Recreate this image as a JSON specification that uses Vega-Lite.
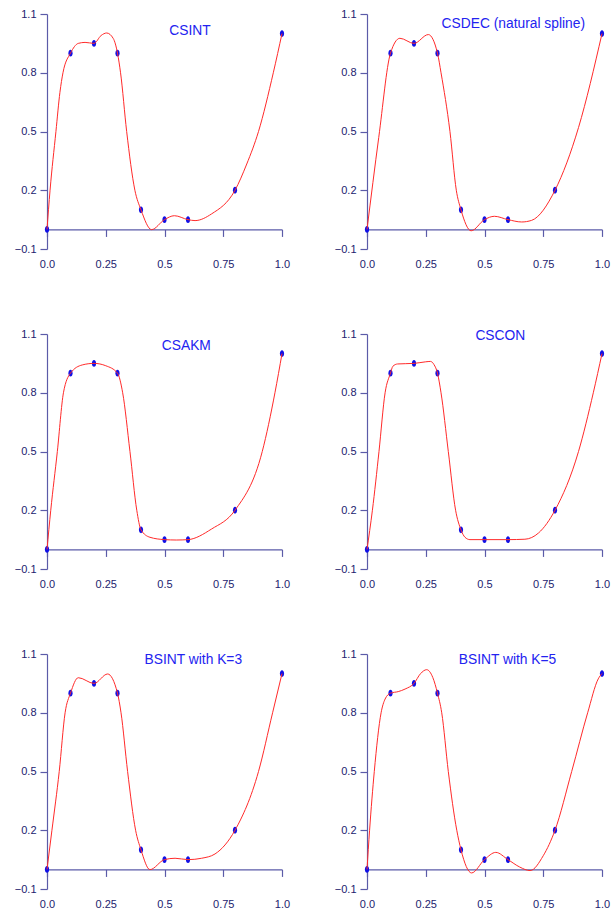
{
  "$schema": "https://vega.github.io/schema/vega-lite/v6.json",
  "background": "white",
  "padding": {"left": 14, "top": 8, "right": 5, "bottom": 5},
  "bounds": "flush",
  "columns": 2,
  "spacing": 85,
  "datasets": {
    "knots": [
      {"x": 0.0, "y": 0.0}, {"x": 0.1, "y": 0.9}, {"x": 0.2, "y": 0.95},
      {"x": 0.3, "y": 0.9}, {"x": 0.4, "y": 0.1}, {"x": 0.5, "y": 0.05},
      {"x": 0.6, "y": 0.05}, {"x": 0.8, "y": 0.2}, {"x": 1.0, "y": 1.0}
    ],
    "csint": [
      {"x": 0, "y": 0}, {"x": 0.013, "y": 0.2}, {"x": 0.038, "y": 0.5}, {"x": 0.055, "y": 0.7},
      {"x": 0.068, "y": 0.8}, {"x": 0.1, "y": 0.9}, {"x": 0.133, "y": 0.95}, {"x": 0.162, "y": 0.955},
      {"x": 0.2, "y": 0.95}, {"x": 0.23, "y": 0.99}, {"x": 0.254, "y": 1.003}, {"x": 0.282, "y": 0.975},
      {"x": 0.3, "y": 0.9}, {"x": 0.313, "y": 0.8}, {"x": 0.339, "y": 0.5}, {"x": 0.374, "y": 0.2},
      {"x": 0.4, "y": 0.1}, {"x": 0.445, "y": -0.001}, {"x": 0.5, "y": 0.05}, {"x": 0.542, "y": 0.07},
      {"x": 0.6, "y": 0.05}, {"x": 0.63, "y": 0.045}, {"x": 0.7, "y": 0.079}, {"x": 0.8, "y": 0.2},
      {"x": 0.85, "y": 0.334}, {"x": 0.9, "y": 0.5}, {"x": 0.963, "y": 0.8}, {"x": 1.0, "y": 1.0}
    ],
    "csdec": [
      {"x": 0, "y": 0}, {"x": 0.05, "y": 0.47}, {"x": 0.1, "y": 0.9}, {"x": 0.14, "y": 0.976},
      {"x": 0.2, "y": 0.95}, {"x": 0.261, "y": 0.995}, {"x": 0.3, "y": 0.9}, {"x": 0.315, "y": 0.8},
      {"x": 0.353, "y": 0.5}, {"x": 0.38, "y": 0.2}, {"x": 0.4, "y": 0.1}, {"x": 0.443, "y": -0.007},
      {"x": 0.5, "y": 0.05}, {"x": 0.542, "y": 0.067}, {"x": 0.6, "y": 0.05}, {"x": 0.658, "y": 0.038},
      {"x": 0.7, "y": 0.046}, {"x": 0.8, "y": 0.2}, {"x": 0.9, "y": 0.52}, {"x": 1.0, "y": 1.0}
    ],
    "csakm": [
      {"x": 0, "y": 0}, {"x": 0.016, "y": 0.2}, {"x": 0.044, "y": 0.5}, {"x": 0.07, "y": 0.8},
      {"x": 0.1, "y": 0.9}, {"x": 0.15, "y": 0.942}, {"x": 0.2, "y": 0.95}, {"x": 0.25, "y": 0.938},
      {"x": 0.3, "y": 0.9}, {"x": 0.322, "y": 0.8}, {"x": 0.353, "y": 0.5}, {"x": 0.382, "y": 0.2},
      {"x": 0.4, "y": 0.1}, {"x": 0.438, "y": 0.062}, {"x": 0.5, "y": 0.05}, {"x": 0.55, "y": 0.048},
      {"x": 0.6, "y": 0.05}, {"x": 0.7, "y": 0.104}, {"x": 0.8, "y": 0.2}, {"x": 0.916, "y": 0.5},
      {"x": 0.97, "y": 0.8}, {"x": 1.0, "y": 1.0}
    ],
    "cscon": [
      {"x": 0, "y": 0}, {"x": 0.023, "y": 0.2}, {"x": 0.051, "y": 0.5}, {"x": 0.077, "y": 0.8},
      {"x": 0.1, "y": 0.9}, {"x": 0.11, "y": 0.935}, {"x": 0.13, "y": 0.947}, {"x": 0.2, "y": 0.95},
      {"x": 0.25, "y": 0.958}, {"x": 0.27, "y": 0.96}, {"x": 0.285, "y": 0.944}, {"x": 0.3, "y": 0.9},
      {"x": 0.315, "y": 0.8}, {"x": 0.346, "y": 0.5}, {"x": 0.377, "y": 0.2}, {"x": 0.4, "y": 0.1},
      {"x": 0.417, "y": 0.062}, {"x": 0.438, "y": 0.05}, {"x": 0.5, "y": 0.05}, {"x": 0.6, "y": 0.05},
      {"x": 0.672, "y": 0.052}, {"x": 0.73, "y": 0.084}, {"x": 0.8, "y": 0.2}, {"x": 0.9, "y": 0.5},
      {"x": 0.963, "y": 0.8}, {"x": 1.0, "y": 1.0}
    ],
    "bsint3": [
      {"x": 0, "y": 0}, {"x": 0.021, "y": 0.2}, {"x": 0.052, "y": 0.5}, {"x": 0.077, "y": 0.8},
      {"x": 0.1, "y": 0.9}, {"x": 0.133, "y": 0.979}, {"x": 0.2, "y": 0.95}, {"x": 0.258, "y": 0.998},
      {"x": 0.3, "y": 0.9}, {"x": 0.315, "y": 0.8}, {"x": 0.343, "y": 0.5}, {"x": 0.377, "y": 0.2},
      {"x": 0.4, "y": 0.1}, {"x": 0.438, "y": -0.001}, {"x": 0.5, "y": 0.05}, {"x": 0.545, "y": 0.057},
      {"x": 0.6, "y": 0.05}, {"x": 0.658, "y": 0.057}, {"x": 0.715, "y": 0.079}, {"x": 0.8, "y": 0.2},
      {"x": 0.9, "y": 0.5}, {"x": 0.96, "y": 0.8}, {"x": 1.0, "y": 1.0}
    ],
    "bsint5": [
      {"x": 0, "y": 0}, {"x": 0.011, "y": 0.2}, {"x": 0.031, "y": 0.5}, {"x": 0.06, "y": 0.8},
      {"x": 0.077, "y": 0.87}, {"x": 0.1, "y": 0.9}, {"x": 0.133, "y": 0.908}, {"x": 0.162, "y": 0.921},
      {"x": 0.2, "y": 0.95}, {"x": 0.228, "y": 1.0}, {"x": 0.254, "y": 1.02}, {"x": 0.28, "y": 0.98},
      {"x": 0.3, "y": 0.9}, {"x": 0.318, "y": 0.8}, {"x": 0.346, "y": 0.5}, {"x": 0.382, "y": 0.2},
      {"x": 0.4, "y": 0.1}, {"x": 0.445, "y": -0.018}, {"x": 0.5, "y": 0.05}, {"x": 0.548, "y": 0.087},
      {"x": 0.6, "y": 0.05}, {"x": 0.65, "y": 0.012}, {"x": 0.694, "y": -0.006}, {"x": 0.75, "y": 0.07},
      {"x": 0.8, "y": 0.2}, {"x": 0.871, "y": 0.5}, {"x": 0.939, "y": 0.8}, {"x": 0.984, "y": 0.973},
      {"x": 1.0, "y": 1.0}
    ]
  },
  "concat": [
    {
      "width": 235, "height": 235,
      "title": {"text": "CSINT", "dx": 25.5, "dy": 34},
      "encoding": {
        "x": {"field": "x", "type": "quantitative", "scale": {"domain": [0, 1], "nice": false, "zero": false},
              "axis": {"values": [0, 0.25, 0.5, 0.75, 1], "offset": -19.58, "labelPadding": 22, "title": null,
                       "labelExpr": "datum.value == 0 ? '0.0' : datum.value == 1 ? '1.0' : '' + datum.value"}},
        "y": {"field": "y", "type": "quantitative", "scale": {"domain": [-0.1, 1.1], "nice": false, "zero": false},
              "axis": {"values": [-0.1, 0.2, 0.5, 0.8, 1.1], "format": ".1f", "labelPadding": 4, "title": null}}
      },
      "layer": [
        {"data": {"name": "knots"}, "mark": {"type": "point", "filled": true, "opacity": 1, "color": "#1010e8", "size": 46,
          "shape": "M-0.62,0A0.62,1,0,1,1,0.62,0A0.62,1,0,1,1,-0.62,0Z"}},
        {"data": {"name": "csint"}, "mark": {"type": "line", "interpolate": "monotone", "color": "#ff2a2a", "strokeWidth": 1}}
      ]
    },
    {
      "width": 235, "height": 235,
      "title": {"text": "CSDEC (natural spline)", "dx": 28.8, "dy": 27},
      "encoding": {
        "x": {"field": "x", "type": "quantitative", "scale": {"domain": [0, 1], "nice": false, "zero": false},
              "axis": {"values": [0, 0.25, 0.5, 0.75, 1], "offset": -19.58, "labelPadding": 22, "title": null,
                       "labelExpr": "datum.value == 0 ? '0.0' : datum.value == 1 ? '1.0' : '' + datum.value"}},
        "y": {"field": "y", "type": "quantitative", "scale": {"domain": [-0.1, 1.1], "nice": false, "zero": false},
              "axis": {"values": [-0.1, 0.2, 0.5, 0.8, 1.1], "format": ".1f", "labelPadding": 4, "title": null}}
      },
      "layer": [
        {"data": {"name": "knots"}, "mark": {"type": "point", "filled": true, "opacity": 1, "color": "#1010e8", "size": 46,
          "shape": "M-0.62,0A0.62,1,0,1,1,0.62,0A0.62,1,0,1,1,-0.62,0Z"}},
        {"data": {"name": "csdec"}, "mark": {"type": "line", "interpolate": "monotone", "color": "#ff2a2a", "strokeWidth": 1}}
      ]
    },
    {
      "width": 235, "height": 235,
      "title": {"text": "CSAKM", "dx": 21.8, "dy": 29},
      "encoding": {
        "x": {"field": "x", "type": "quantitative", "scale": {"domain": [0, 1], "nice": false, "zero": false},
              "axis": {"values": [0, 0.25, 0.5, 0.75, 1], "offset": -19.58, "labelPadding": 22, "title": null,
                       "labelExpr": "datum.value == 0 ? '0.0' : datum.value == 1 ? '1.0' : '' + datum.value"}},
        "y": {"field": "y", "type": "quantitative", "scale": {"domain": [-0.1, 1.1], "nice": false, "zero": false},
              "axis": {"values": [-0.1, 0.2, 0.5, 0.8, 1.1], "format": ".1f", "labelPadding": 4, "title": null}}
      },
      "layer": [
        {"data": {"name": "knots"}, "mark": {"type": "point", "filled": true, "opacity": 1, "color": "#1010e8", "size": 46,
          "shape": "M-0.62,0A0.62,1,0,1,1,0.62,0A0.62,1,0,1,1,-0.62,0Z"}},
        {"data": {"name": "csakm"}, "mark": {"type": "line", "interpolate": "monotone", "color": "#ff2a2a", "strokeWidth": 1}}
      ]
    },
    {
      "width": 235, "height": 235,
      "title": {"text": "CSCON", "dx": 15.8, "dy": 19},
      "encoding": {
        "x": {"field": "x", "type": "quantitative", "scale": {"domain": [0, 1], "nice": false, "zero": false},
              "axis": {"values": [0, 0.25, 0.5, 0.75, 1], "offset": -19.58, "labelPadding": 22, "title": null,
                       "labelExpr": "datum.value == 0 ? '0.0' : datum.value == 1 ? '1.0' : '' + datum.value"}},
        "y": {"field": "y", "type": "quantitative", "scale": {"domain": [-0.1, 1.1], "nice": false, "zero": false},
              "axis": {"values": [-0.1, 0.2, 0.5, 0.8, 1.1], "format": ".1f", "labelPadding": 4, "title": null}}
      },
      "layer": [
        {"data": {"name": "knots"}, "mark": {"type": "point", "filled": true, "opacity": 1, "color": "#1010e8", "size": 46,
          "shape": "M-0.62,0A0.62,1,0,1,1,0.62,0A0.62,1,0,1,1,-0.62,0Z"}},
        {"data": {"name": "cscon"}, "mark": {"type": "line", "interpolate": "monotone", "color": "#ff2a2a", "strokeWidth": 1}}
      ]
    },
    {
      "width": 235, "height": 235,
      "title": {"text": "BSINT with K=3", "dx": 28.8, "dy": 23},
      "encoding": {
        "x": {"field": "x", "type": "quantitative", "scale": {"domain": [0, 1], "nice": false, "zero": false},
              "axis": {"values": [0, 0.25, 0.5, 0.75, 1], "offset": -19.58, "labelPadding": 22, "title": null,
                       "labelExpr": "datum.value == 0 ? '0.0' : datum.value == 1 ? '1.0' : '' + datum.value"}},
        "y": {"field": "y", "type": "quantitative", "scale": {"domain": [-0.1, 1.1], "nice": false, "zero": false},
              "axis": {"values": [-0.1, 0.2, 0.5, 0.8, 1.1], "format": ".1f", "labelPadding": 4, "title": null}}
      },
      "layer": [
        {"data": {"name": "knots"}, "mark": {"type": "point", "filled": true, "opacity": 1, "color": "#1010e8", "size": 46,
          "shape": "M-0.62,0A0.62,1,0,1,1,0.62,0A0.62,1,0,1,1,-0.62,0Z"}},
        {"data": {"name": "bsint3"}, "mark": {"type": "line", "interpolate": "monotone", "color": "#ff2a2a", "strokeWidth": 1}}
      ]
    },
    {
      "width": 235, "height": 235,
      "title": {"text": "BSINT with K=5", "dx": 23, "dy": 23},
      "encoding": {
        "x": {"field": "x", "type": "quantitative", "scale": {"domain": [0, 1], "nice": false, "zero": false},
              "axis": {"values": [0, 0.25, 0.5, 0.75, 1], "offset": -19.58, "labelPadding": 22, "title": null,
                       "labelExpr": "datum.value == 0 ? '0.0' : datum.value == 1 ? '1.0' : '' + datum.value"}},
        "y": {"field": "y", "type": "quantitative", "scale": {"domain": [-0.1, 1.1], "nice": false, "zero": false},
              "axis": {"values": [-0.1, 0.2, 0.5, 0.8, 1.1], "format": ".1f", "labelPadding": 4, "title": null}}
      },
      "layer": [
        {"data": {"name": "knots"}, "mark": {"type": "point", "filled": true, "opacity": 1, "color": "#1010e8", "size": 46,
          "shape": "M-0.62,0A0.62,1,0,1,1,0.62,0A0.62,1,0,1,1,-0.62,0Z"}},
        {"data": {"name": "bsint5"}, "mark": {"type": "line", "interpolate": "monotone", "color": "#ff2a2a", "strokeWidth": 1}}
      ]
    }
  ],
  "config": {
    "view": {"stroke": null},
    "axis": {
      "grid": false,
      "labelFlush": false,
      "labelOverlap": false,
      "domainColor": "#5b5ba8",
      "domainWidth": 1.2,
      "tickColor": "#5b5ba8",
      "tickWidth": 1.2,
      "tickSize": 7,
      "labelColor": "#22226e",
      "labelFont": "Liberation Sans",
      "labelFontSize": 11
    },
    "title": {
      "color": "#2323f0",
      "font": "Liberation Sans",
      "fontSize": 13.8,
      "fontWeight": "normal",
      "anchor": "middle",
      "frame": "group",
      "offset": 0
    }
  }
}
